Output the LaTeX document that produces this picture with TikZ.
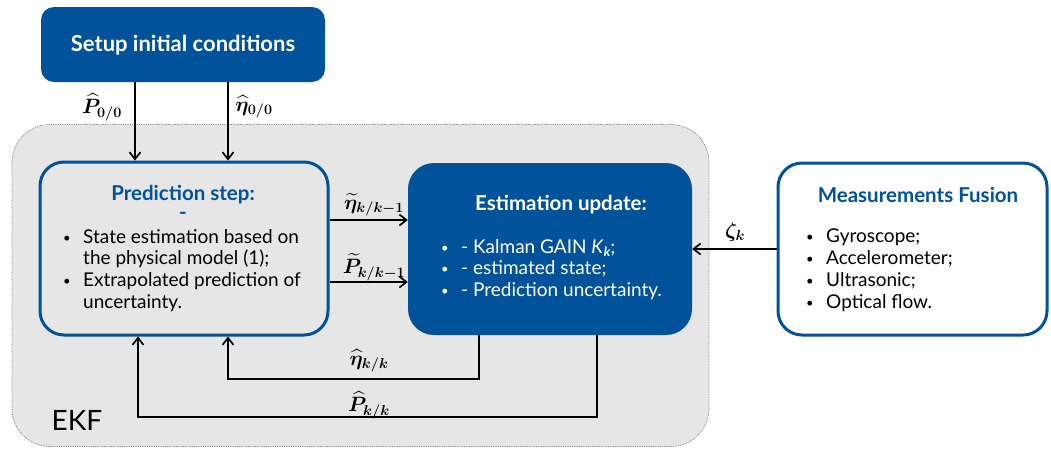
\documentclass[tikz,border=0pt]{standalone}
\usepackage{amsmath,bm}
\usepackage{fontspec}
\setmainfont{Lato}
\usetikzlibrary{arrows.meta}
\definecolor{dblue}{RGB}{0,82,155}
\definecolor{ekfgray}{RGB}{230,230,230}
\newcommand{\bul}{\makebox[20pt][l]{\raisebox{1pt}{\fontsize{13}{13}\selectfont•}}}
\newcommand{\nob}{\makebox[20pt][l]{}}
\begin{document}
\begin{tikzpicture}[x=1pt,y=-1pt,
  darkbox/.style={draw=none,fill=dblue,rounded corners=13pt,inner sep=0},
  linebox/.style={draw=dblue,line width=3pt,rounded corners=24pt,inner sep=0},
  ttl/.style={font=\fontsize{20.5}{24}\selectfont\bfseries,inner sep=0},
  body/.style={font=\fontsize{19}{21.7}\selectfont,align=left,inner sep=0,anchor=north west},
  arr/.style={line width=1.7pt,-{Straight Barb[length=7pt,width=11pt,line width=1.7pt]}},
  lbl/.style={font=\fontsize{20}{22}\selectfont,inner sep=1pt}]
\useasboundingbox (0,0) rectangle (1051,448);
% EKF container
\node[draw=gray,densely dotted,line width=0.8pt,fill=ekfgray,rounded corners=38pt,
  minimum width=697pt,minimum height=322pt,inner sep=0] (ekf) at (360.5,285.5) {};
\node[font=\fontsize{28}{32}\selectfont,inner sep=0] (ekflbl) at (77,420) {EKF};
% boxes
\node[darkbox,minimum width=284pt,minimum height=75pt] (setup) at (183,44.5) {};
\node[ttl,font=\fontsize{22}{26}\selectfont\bfseries,text=white] (setupt) at (183,45) {Setup initial conditions};
\node[linebox,fill=ekfgray,minimum width=288pt,minimum height=173pt] (pred) at (184,248.5) {};
\node[darkbox,rounded corners=26pt,minimum width=284pt,minimum height=172pt] (est) at (550,249) {};
\node[linebox,fill=white,minimum width=269pt,minimum height=172pt] (meas) at (912.5,249) {};
% texts
\node[ttl,text=dblue] (predt) at (183,195) {Prediction step:};
\node[ttl,text=dblue] (predd) at (183,216) {-};
\node[body] (predb) at (63,229) {\bul State estimation based on\\
  \nob the physical model (1);\\
  \bul Extrapolated prediction of\\
  \nob uncertainty.};
\node[ttl,text=white] (estt) at (561,205) {Estimation update:};
\node[body,text=white] (estb) at (441,239) {\bul - Kalman GAIN \textit{K}\raisebox{-3pt}{\fontsize{13}{13}\selectfont\bfseries\itshape k};\\
  \bul - estimated state;\\
  \bul - Prediction uncertainty.};
\node[ttl,text=dblue] (meast) at (918,195) {Measurements Fusion};
\node[body] (measb) at (806,229) {\bul Gyroscope;\\
  \bul Accelerometer;\\
  \bul Ultrasonic;\\
  \bul Optical flow.};
% connectors
\coordinate (c1) at (135,0);
\coordinate (c2) at (228,0);
\draw[arr] (setup.south -| c1) -- (pred.north -| c1);
\draw[arr] (setup.south -| c2) -- (pred.north -| c2);
\node[lbl] (l1) at (102,107) {$\bm{\widehat{P}}_{\bm{0/0}}$};
\node[lbl] (l2) at (254,107) {$\bm{\widehat{\eta}}_{\bm{0/0}}$};
\coordinate (r1) at (0,220);
\coordinate (r2) at (0,282);
\draw[arr] (pred.east |- r1) -- (est.west |- r1);
\draw[arr] (pred.east |- r2) -- (est.west |- r2);
\node[lbl] (l3) at (374,205) {$\bm{\widetilde{\eta}}_{\bm{k/k-1}}$};
\node[lbl] (l4) at (374,267) {$\bm{\widetilde{P}}_{\bm{k/k-1}}$};
\coordinate (r3) at (0,249);
\draw[arr] (meas.west |- r3) -- (est.east |- r3);
\node[lbl] (l5) at (735,232) {$\bm{\zeta}_{\bm{k}}$};
\coordinate (b1) at (479,379);
\coordinate (b2) at (228,379);
\coordinate (b3) at (597,417);
\coordinate (b4) at (138,417);
\draw[arr] (est.south -| b1) -- (b1) -- (b2) -- (pred.south -| b2);
\draw[arr] (est.south -| b3) -- (b3) -- (b4) -- (pred.south -| b4);
\node[lbl] (l6) at (369,361) {$\bm{\widehat{\eta}}_{\bm{k/k}}$};
\node[lbl] (l7) at (369,405) {$\bm{\widehat{P}}_{\bm{k/k}}$};
\end{tikzpicture}
\end{document}
